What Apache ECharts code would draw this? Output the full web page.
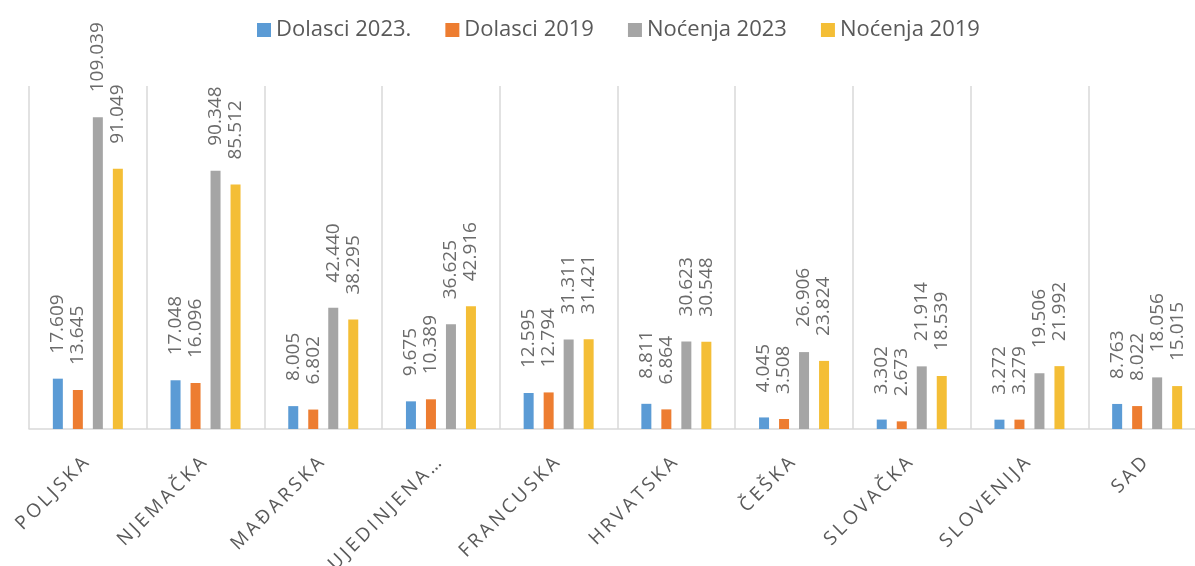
<!DOCTYPE html>
<html>
<head>
<meta charset="utf-8">
<script src="https://cdn.jsdelivr.net/npm/echarts@6/dist/echarts.min.js"></script>
<style>
  html, body { margin: 0; padding: 0; background: #fff; }
  #chart { width: 1195px; height: 566px; }
</style>
</head>
<body>
<div id="chart"></div>
<script>
var countries = ['POLJSKA', 'NJEMAČKA', 'MAĐARSKA', 'UJEDINJENA…', 'FRANCUSKA', 'HRVATSKA', 'ČEŠKA', 'SLOVAČKA', 'SLOVENIJA', 'SAD'];
var seriesNames = ['Dolasci 2023.', 'Dolasci 2019', 'Noćenja 2023', 'Noćenja 2019'];
var dolasci2023 = [17609, 17048, 8005, 9675, 12595, 8811, 4045, 3302, 3272, 8763];
var dolasci2019 = [13645, 16096, 6802, 10389, 12794, 6864, 3508, 2673, 3279, 8022];
var nocenja2023 = [109039, 90348, 42440, 36625, 31311, 30623, 26906, 21914, 19506, 18056];
var nocenja2019 = [91049, 85512, 38295, 42916, 31421, 30548, 23824, 18539, 21992, 15015];
var colors = ['#5B9BD5', '#ED7D31', '#A5A5A5', '#F4BE36'];

// 109039 -> "109.039"
function fmt(v) {
    return String(v).replace(/\B(?=(\d{3})+(?!\d))/g, '.');
}
// razmak izmedju slova kao u excelu
function spaced(s) {
    return s.split('').join('\u2009') + '\u2009';
}

var seriesData = [dolasci2023, dolasci2019, nocenja2023, nocenja2019];
var series = seriesData.map(function (d, i) {
    return {
        name: seriesNames[i],
        type: 'bar',
        data: d,
        barWidth: 10,
        barGap: '100%',
        itemStyle: { color: colors[i] },
        label: {
            show: true,
            position: 'top',
            rotate: 90,
            align: 'left',
            verticalAlign: 'middle',
            distance: 25,
            color: '#6b6b6b',
            fontSize: 19,
            fontFamily: 'Open Sans',
            formatter: function (p) { return fmt(p.value); }
        }
    };
});

var option = {
    animation: false,
    color: colors,
    legend: {
        top: 14,
        left: 252,
        itemWidth: 14,
        itemHeight: 14,
        itemGap: 34,
        icon: 'rect',
        textStyle: { fontSize: 22, color: '#595959', fontFamily: 'Open Sans' },
        data: seriesNames
    },
    grid: { left: 29, top: 86, width: 1177, height: 343, outerBoundsMode: 'none' },
    xAxis: {
        type: 'category',
        data: countries,
        axisLine: { lineStyle: { color: '#d9d9d9', width: 1.5 } },
        axisTick: { show: false },
        splitLine: { show: true, lineStyle: { color: '#d9d9d9', width: 1.5 } },
        axisLabel: {
            rotate: 45,
            margin: 29,
            fontSize: 19,
            color: '#595959',
            fontFamily: 'Open Sans',
            interval: 0,
            formatter: function (v) { return spaced(v); }
        }
    },
    yAxis: {
        type: 'value',
        min: 0,
        max: 120000,
        show: false,
        splitLine: { show: false }
    },
    series: series
};

var chart = echarts.init(document.getElementById('chart'));
chart.setOption(option);
</script>
</body>
</html>
